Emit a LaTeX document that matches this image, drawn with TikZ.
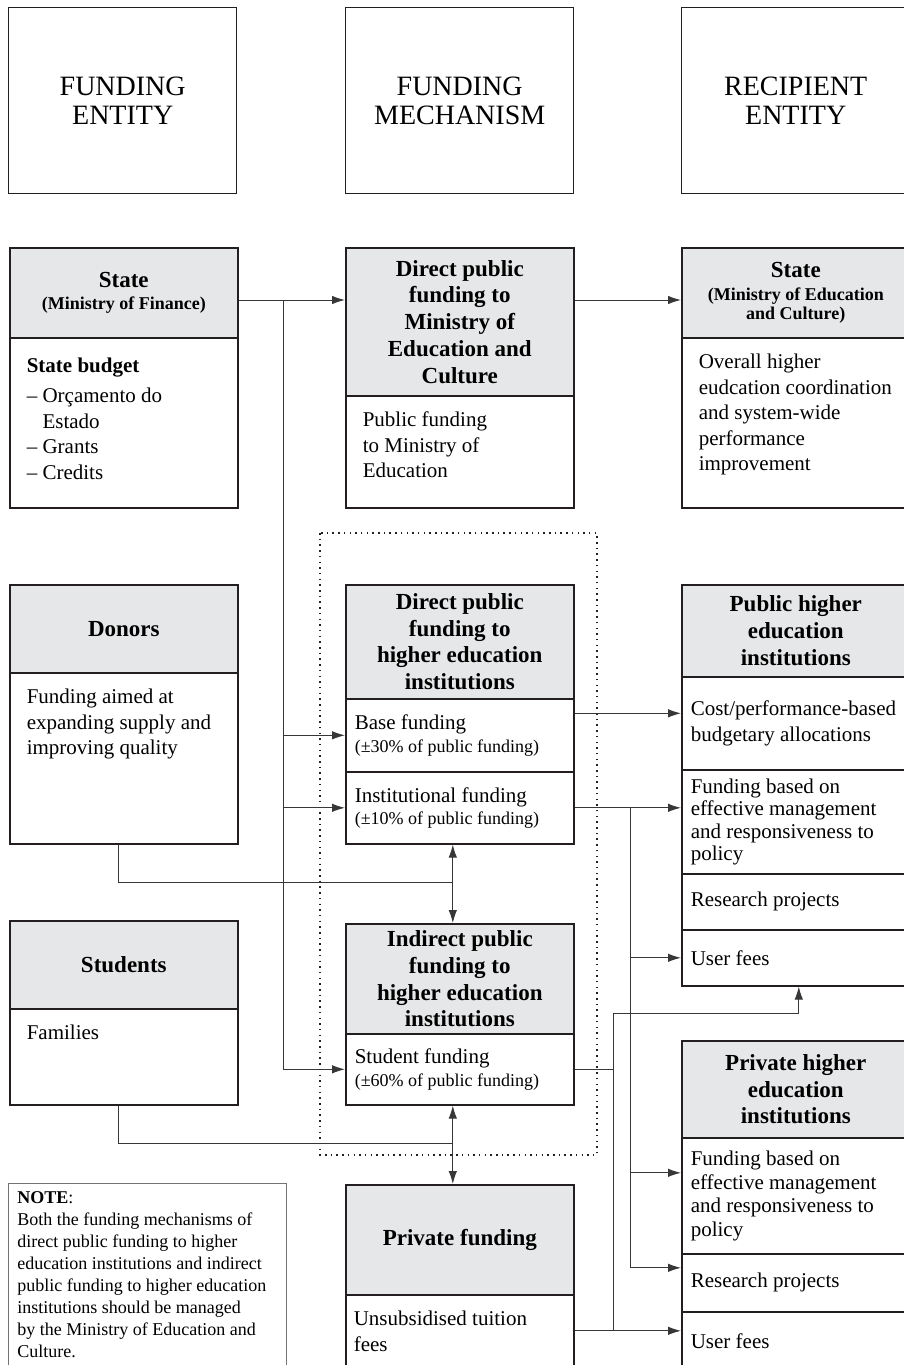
\documentclass[tikz,border=0pt]{standalone}
\usepackage{fontspec}
\setmainfont{Liberation Serif}
\usepackage{tikz}
\usetikzlibrary{arrows.meta}
\definecolor{hdfill}{RGB}{230,231,232}
\definecolor{boxline}{RGB}{35,31,32}
\definecolor{lncol}{RGB}{55,55,55}
\newcommand{\colfont}{\fontsize{28}{29}\selectfont}
\newcommand{\hdfont}{\fontsize{23}{26.7}\selectfont\bfseries}
\newcommand{\hdsub}{\fontsize{18}{20}\selectfont\bfseries}
\newcommand{\bdfont}{\fontsize{21}{25.5}\selectfont}
\newcommand{\bdsub}{\fontsize{18}{20}\selectfont}
\newcommand{\notefont}{\fontsize{18}{22}\selectfont}

\begin{document}
\begin{tikzpicture}[x=1pt,y=-1pt,
  box/.style={draw=boxline,line width=1.6pt,anchor=north west,inner sep=0pt,minimum width=228pt},
  colhd/.style={box,line width=1.4pt,minimum height=186pt,align=center,font=\colfont},
  hd/.style={box,fill=hdfill,align=center,font=\hdfont},
  cell/.style={box,font=\bdfont,inner xsep=9pt},
  topcell/.style={box,font=\bdfont,inner xsep=17pt,inner ysep=13pt},
  ln/.style={draw=lncol,line width=1pt},
  arr/.style={ln,-{Latex[length=13pt,width=8.5pt]}},
  dbl/.style={ln,{Latex[length=13pt,width=8.5pt]}-{Latex[length=13pt,width=8.5pt]}},
  dots/.style={draw=boxline,line width=1.5pt,dash pattern=on 1.5pt off 4.2pt}]
\useasboundingbox (0,0) rectangle (904,1365);
\clip (0,0) rectangle (904,1365);

% column titles
\node[colhd] (fe) at (8,7) {FUNDING\\ENTITY};
\node[colhd] (fm) at (345,7) {FUNDING\\MECHANISM};
\node[colhd] (re) at (681,7) {RECIPIENT\\ENTITY};

% state row
\node[hd,minimum height=90pt] (stateh) at (9,247) {State\\[-5pt]{\hdsub (Ministry of Finance)}};
\node[topcell] (stateb) at (9,337) {\parbox[t][144pt][t]{194pt}{\rule{0pt}{22pt}\textbf{State budget}\\[4.5pt]
  –~Orçamento do\\ \phantom{–~}Estado\\ –~Grants\\ –~Credits}};
\node[hd,minimum height=148pt] (dminh) at (345,247) {Direct public\\funding to\\Ministry of\\Education and\\Culture};
\node[topcell] (dminb) at (345,395) {\parbox[t][86pt][t]{194pt}{\strut Public funding\\to Ministry of\\Education}};
\node[hd,minimum height=90pt] (steh) at (681,247) {State\\[-4pt]{\hdsub (Ministry of Education}\\[-8pt]{\hdsub and Culture)}};
\node[topcell] (steb) at (681,337) {\parbox[t][144pt][t]{194pt}{\strut Overall higher\\\mbox{eudcation coordination}\\and system-wide\\performance\\improvement}};

% donors row
\node[hd,minimum height=88pt] (donh) at (9,584) {Donors};
\node[topcell] (donb) at (9,672) {\parbox[t][145pt][t]{194pt}{\strut Funding aimed at\\\mbox{expanding supply and}\\improving quality}};
\node[hd,minimum height=114pt] (dheih) at (345,584) {Direct public\\funding to\\higher education\\institutions};
\node[cell,minimum height=73pt] (base) at (345,698) {\parbox{210pt}{Base funding\\[-3pt]{\bdsub (±30\% of public funding)}}};
\node[cell,minimum height=72pt] (inst) at (345,771) {\parbox{210pt}{Institutional funding\\[-3pt]{\bdsub (±10\% of public funding)}}};
\node[hd,minimum height=92pt] (pheih) at (681,584) {Public higher\\education\\institutions};
\node[cell,minimum height=93pt] (cost) at (681,676) {\parbox{210pt}{Cost/performance-based\\budgetary allocations}};
\node[cell,minimum height=104pt,font=\fontsize{21}{22.5}\selectfont] (efm) at (681,769) {\parbox{210pt}{Funding based on\\effective management\\and responsiveness to\\policy}};
\node[cell,minimum height=56pt] (rsch) at (681,873) {\parbox{210pt}{Research projects}};
\node[cell,minimum height=56pt] (ufee) at (681,929) {\parbox{210pt}{User fees}};

% students row
\node[hd,minimum height=88pt] (stuh) at (9,920) {Students};
\node[topcell] (stub) at (9,1008) {\parbox[t][70pt][t]{194pt}{\strut Families}};
\node[hd,minimum height=110pt] (iheih) at (345,923) {Indirect public\\funding to\\higher education\\institutions};
\node[cell,minimum height=71pt] (stf) at (345,1033) {\parbox{210pt}{Student funding\\[-3pt]{\bdsub (±60\% of public funding)}}};
\node[hd,minimum height=97pt] (prvh) at (681,1040) {Private higher\\education\\institutions};
\node[cell,minimum height=116pt,font=\fontsize{21}{23.5}\selectfont] (pefm) at (681,1137) {\parbox{210pt}{Funding based on\\effective management\\and responsiveness to\\policy}};
\node[cell,minimum height=58pt] (prsch) at (681,1253) {\parbox{210pt}{Research projects}};
\node[cell,minimum height=58pt] (pufee) at (681,1311) {\parbox{210pt}{User fees}};

% private row and note
\node[hd,minimum height=110pt] (pfh) at (345,1184) {Private funding};
\node[topcell,inner xsep=8pt] (pfb) at (345,1294) {\parbox[t][60pt][t]{212pt}{\strut Unsubsidised tuition\\fees}};
\node[box,draw=black!55,line width=0.8pt,minimum width=278pt,inner xsep=9pt,inner ysep=5pt,font=\notefont] (note) at (8,1183)
  {\parbox[t][200pt][t]{260pt}{\strut\textbf{NOTE}:\\Both the funding mechanisms of\\direct public funding to higher\\education institutions and indirect\\public funding to higher education\\institutions should be managed\\by the Ministry of Education and\\Culture.}};

\draw[dots] (320,533) rectangle (597,1155);

% connectors
\coordinate (bus) at (283,300);
\coordinate (bus2) at (630,807);
\coordinate (dj) at (452,882);
\coordinate (sj) at (452,1143);
\coordinate (pj) at (613,1013);
\coordinate (bo) at ([yshift=22pt]base.east);
\coordinate (pe) at ([yshift=23pt]pefm.west);
\coordinate (pr) at ([yshift=15pt]prsch.west);
\coordinate (po) at ([yshift=7pt]pfb.east);
\draw[arr] (stateh.east |- bus) -- (dminh.west |- bus);
\draw[arr] (dminh.east |- bus) -- (steh.west |- bus);
\draw[arr] (bus) |- (stf.west);
\draw[arr] (bus |- base.west) -- (base.west);
\draw[arr] (bus |- inst.west) -- (inst.west);
\draw[arr] (bo) -- (bo -| cost.west);
\draw[arr] (inst.east) -- (inst.east -| efm.west);
\draw[arr] (bus2) |- (ufee.west);
\draw[arr] (bus2) |- (pe);
\draw[arr] (bus2) |- (pr);
\draw[ln] ([xshift=-5pt]donb.south) |- (dj);
\draw[dbl] ([xshift=-7pt]inst.south) -- ([xshift=-7pt]iheih.north);
\draw[ln] ([xshift=-5pt]stub.south) |- (sj);
\draw[dbl] ([xshift=-7pt]stf.south) -- ([xshift=-7pt]pfh.north);
\draw[arr] (stf.east) -| (pj) -| ([xshift=3pt]ufee.south);
\draw[ln] (pj |- stf.east) -- (pj |- po);
\draw[arr] (po) -- (po -| pufee.west);
\end{tikzpicture}
\end{document}
